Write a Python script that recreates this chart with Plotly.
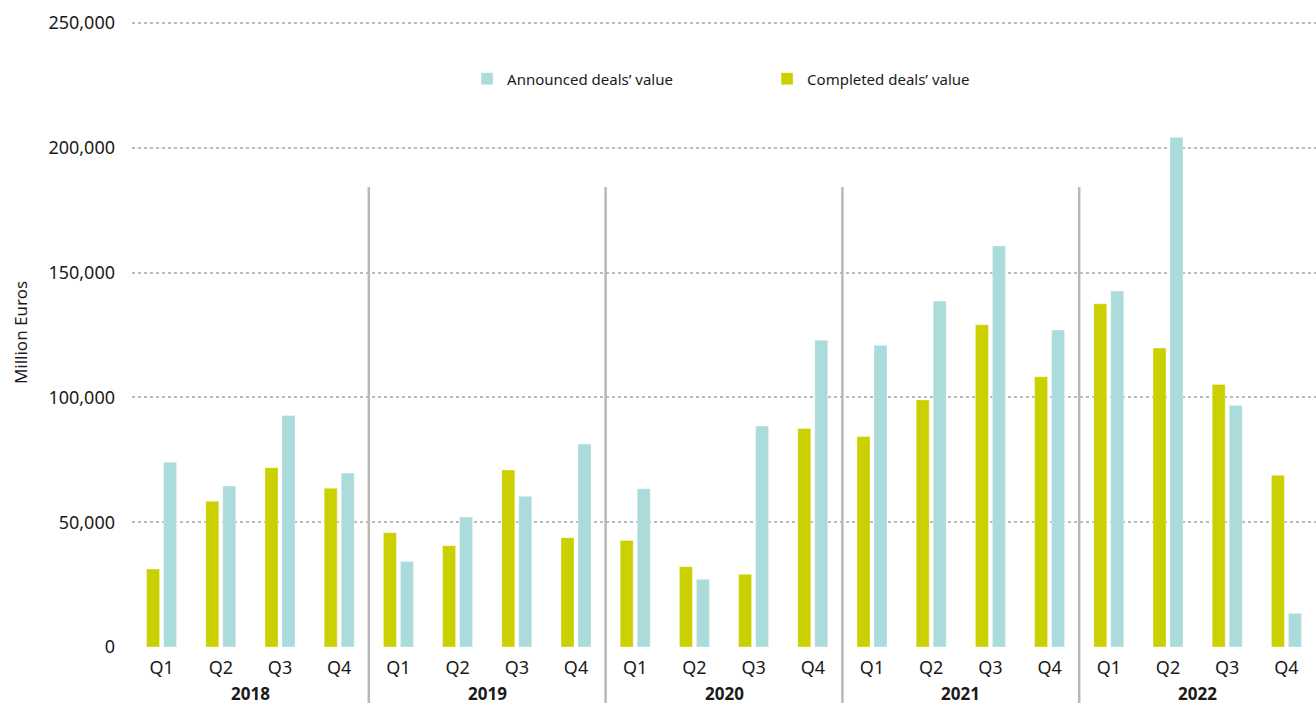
import plotly.graph_objects as go

years = ["2018", "2019", "2020", "2021", "2022"]
quarters = ["Q1", "Q2", "Q3", "Q4"]
completed = [31250, 58400, 71850, 63600,
             45800, 40600, 70900, 43800,
             42700, 32200, 29100, 87500,
             84300, 99000, 129100, 108300,
             137500, 119800, 105200, 68800]
announced = [74000, 64500, 92700, 69700,
             34300, 52100, 60400, 81300,
             63400, 27100, 88500, 122900,
             120900, 138600, 160700, 127000,
             142600, 204200, 96800, 13500]
y_ticks = [0, 50000, 100000, 150000, 200000, 250000]

x_idx = list(range(len(years) * len(quarters)))
x_text = quarters * len(years)

FONT = "Noto Sans"
TXT = "#1a1a1a"
C_COMP = "#cbd000"
C_ANN = "#acdbdb"

Y_MAX = 252000
PLOT_H = 624 * Y_MAX / 250000  # px
TOP = 706 - 59 - round(PLOT_H)

fig = go.Figure()
fig.add_trace(go.Bar(x=x_idx, y=completed, name="Completed deals’ value",
                     marker=dict(color=C_COMP, line=dict(color="rgba(255,255,255,0.35)", width=1))))
fig.add_trace(go.Bar(x=x_idx, y=announced, name="Announced deals’ value",
                     marker=dict(color=C_ANN, line=dict(color="rgba(255,255,255,0.35)", width=1))))

shapes = []
annotations = []
for i, yr in enumerate(years):
    annotations.append(dict(x=i * 4 + 1.5, xref="x", y=-59 / PLOT_H, yref="paper",
                            text="<b>%s</b>" % yr, showarrow=False,
                            font=dict(family=FONT, size=17, color=TXT),
                            yanchor="bottom", borderpad=0))
    if i > 0:
        shapes.append(dict(type="line", xref="x", yref="paper",
                           x0=i * 4 - 0.5, x1=i * 4 - 0.5,
                           y0=-56 / PLOT_H, y1=460 / PLOT_H,
                           line=dict(color="#b8b8b8", width=2.5)))

fig.update_layout(
    width=1316, height=706,
    margin=dict(l=132, r=0, t=TOP, b=59),
    paper_bgcolor="white", plot_bgcolor="white",
    barmode="group", bargap=0.426, bargroupgap=0.235,
    font=dict(family=FONT, color=TXT),
    showlegend=True,
    legend=dict(orientation="h", x=0.283, y=(647 - 79) / PLOT_H,
                xanchor="left", yanchor="middle",
                traceorder="reversed", entrywidth=255, entrywidthmode="pixels",
                font=dict(family=FONT, size=15, color=TXT),
                bgcolor="rgba(0,0,0,0)"),
    shapes=shapes, annotations=annotations,
    xaxis=dict(tickmode="array", tickvals=x_idx, ticktext=x_text,
               range=[-0.5, len(x_idx) - 0.5], showgrid=False, zeroline=False,
               showline=False, ticks="", ticklabelstandoff=8,
               tickfont=dict(family=FONT, size=18, color=TXT),
               fixedrange=True),
    yaxis=dict(range=[0, Y_MAX], tickmode="array", tickvals=y_ticks,
               ticktext=["{:,}".format(v) for v in y_ticks],
               showgrid=True, gridcolor="#bbbbbb", griddash="dot", gridwidth=1.5,
               zeroline=False, showline=False, ticks="",
               ticklabelstandoff=16,
               tickfont=dict(family=FONT, size=18, color=TXT),
               title=dict(text="Million Euros", standoff=16,
                          font=dict(family=FONT, size=17, color=TXT))),
)

fig.write_html("out.html")
